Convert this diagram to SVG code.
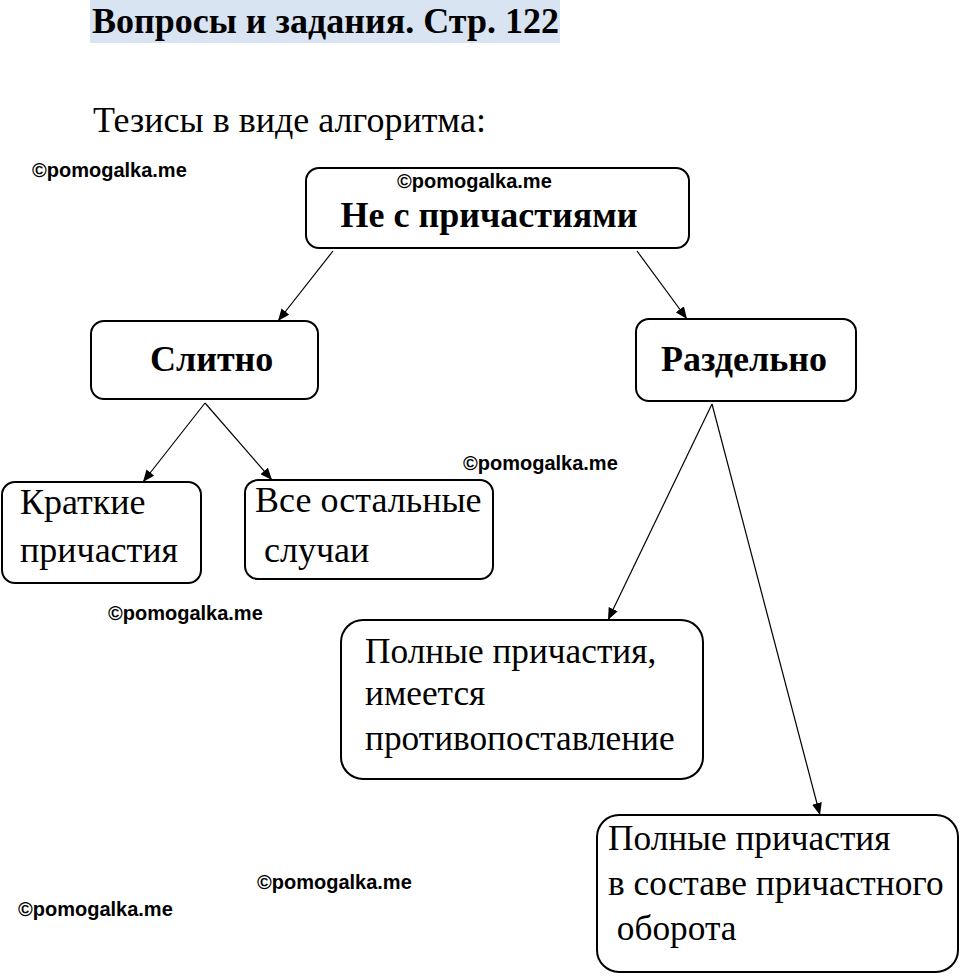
<svg xmlns="http://www.w3.org/2000/svg" width="960" height="976" viewBox="0 0 960 976">
<defs>
<marker id="ah" markerWidth="12" markerHeight="10" refX="12" refY="5" orient="auto" markerUnits="userSpaceOnUse">
<path d="M0,0 L12,5 L0,10 Z" fill="#000"/>
</marker>
<style>
.box{fill:#fff;stroke:#000;stroke-width:2}
.t{font-family:"Liberation Serif","Times New Roman",serif;fill:#000;font-size:36px}
.s{font-size:35.3px}
.b{font-weight:bold}
.wm{font-family:"Liberation Sans",Arial,sans-serif;font-weight:bold;font-size:20px;fill:#000}
.c line{stroke:#000;stroke-width:1.2;marker-end:url(#ah)}
</style>
</defs>
<rect width="960" height="976" fill="#fff"/>
<rect x="90" y="0" width="470" height="43" fill="#d9e4f3"/>
<text class="t b" x="92" y="33">Вопросы и задания. Стр. 122</text>
<text class="t" x="93" y="132" font-size="36.5">Тезисы в виде алгоритма:</text>

<g id="n-root">
<rect class="box" x="306" y="168" width="383" height="80" rx="13"/>
<text class="t b" x="489" y="227" text-anchor="middle">Не с причастиями</text>
</g>
<g id="n-slitno">
<rect class="box" x="91" y="321" width="227" height="78" rx="13"/>
<text class="t b" x="150" y="371">Слитно</text>
</g>
<g id="n-razdelno">
<rect class="box" x="636" y="319" width="220" height="82" rx="13"/>
<text class="t b" x="661" y="371">Раздельно</text>
</g>
<g id="n-kratkie">
<rect class="box" x="2" y="482" width="199" height="101" rx="13"/>
<text class="t" x="20" y="514">Краткие</text>
<text class="t" x="20" y="562">причастия</text>
</g>
<g id="n-vse">
<rect class="box" x="245" y="480" width="248" height="99" rx="13"/>
<text class="t" x="255" y="512">Все остальные</text>
<text class="t" x="255" y="562" xml:space="preserve"> случаи</text>
</g>
<g id="n-polnye1">
<rect class="box" x="341" y="620" width="362" height="159" rx="22"/>
<text class="t s" x="365" y="663">Полные причастия,</text>
<text class="t s" x="365" y="705">имеется</text>
<text class="t s" x="365" y="750">противопоставление</text>
</g>
<g id="n-polnye2">
<rect class="box" x="597" y="815" width="361" height="157" rx="22"/>
<text class="t s" x="608" y="850">Полные причастия</text>
<text class="t s" x="608" y="895">в составе причастного</text>
<text class="t s" x="608" y="940" xml:space="preserve"> оборота</text>
</g>

<g id="connectors" class="c">
<line x1="333" y1="251" x2="278" y2="321"/>
<line x1="637" y1="251" x2="687" y2="319"/>
<line x1="205" y1="403" x2="143" y2="482"/>
<line x1="205" y1="403" x2="272" y2="480"/>
<line x1="712" y1="404" x2="608" y2="620"/>
<line x1="712" y1="404" x2="820" y2="815"/>
</g>

<g id="watermarks">
<text class="wm" x="32" y="177">©pomogalka.me</text>
<text class="wm" x="397" y="188">©pomogalka.me</text>
<text class="wm" x="463" y="470">©pomogalka.me</text>
<text class="wm" x="108" y="620">©pomogalka.me</text>
<text class="wm" x="257" y="889">©pomogalka.me</text>
<text class="wm" x="18" y="916">©pomogalka.me</text>
</g>
</svg>
